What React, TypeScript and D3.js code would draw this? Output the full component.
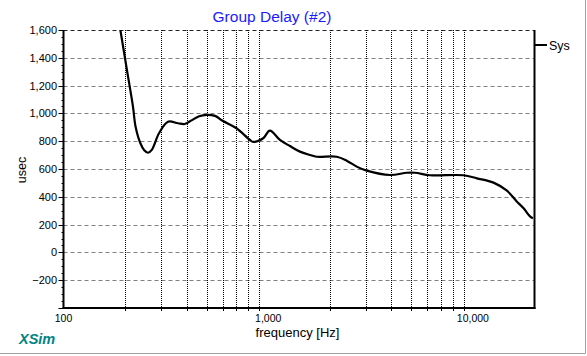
import React from "react";
import * as d3 from "d3";

const title = "Group Delay (#2)";
const seriesName = "Sys";
const freqs = [189.6, 204, 218.5, 225, 237.5, 248, 258.6, 270, 292.8, 324, 363, 391, 422, 460, 500, 550, 602, 700, 814, 845, 945, 1019, 1141, 1277, 1429, 1600, 1725, 2161, 2418, 2707, 3030, 3938, 4755, 5220, 6182, 8995, 10460, 12610, 14670, 16420, 17690, 19070, 19660];
const delays = [1600, 1315, 1048, 904, 785, 735, 717, 738, 857, 940, 929, 924, 950, 980, 990, 982, 945, 893, 809, 795, 821, 876, 809, 765, 725, 701, 688, 688, 660, 617, 588, 557, 573, 573, 555, 555, 533, 502, 444, 365, 317, 257, 245];
const yTicks = [-200, 0, 200, 400, 600, 800, 1000, 1200, 1400, 1600];
const xLabels = [100, 1000, 10000];

export default function App() {
  const W = 587, H = 356;
  const L = 63.5, R = 534.5, T = 30, B = 308;
  const x = d3.scaleLog().domain([100, 20000]).range([L, R]);
  const y = d3.scaleLinear().domain([-400, 1600]).range([B, T]);
  const fmt = d3.format(",");
  const minorX: number[] = [];
  for (const dec of [100, 1000, 10000]) for (let k = 2; k <= 9; k++) { const f = dec * k; if (f < 20000) minorX.push(f); }
  const minorY = d3.range(-400, 1601, 50);
  const pts = freqs.map((f, i) => [f, delays[i]] as [number, number]);
  const line = d3.line<[number, number]>().x(d => x(d[0])).y(d => y(d[1])).curve(d3.curveCatmullRom.alpha(0.5));
  const font = "Arial, 'Liberation Sans', sans-serif";
  return (
    <svg width={W} height={H} style={{ position: "absolute", left: 0, top: 0, background: "#fff" }} fontFamily={font}>
      <rect x={0} y={0} width={W} height={H} fill="#fff" />
      <line x1={0} x2={585.5} y1={353.5} y2={353.5} stroke="#a0a0a0" />
      <line x1={585.5} x2={585.5} y1={0} y2={353.5} stroke="#a0a0a0" />
      <text x={272} y={21.5} textAnchor="middle" fontSize={15.5} fill="#1a1aff">{title}</text>
      {/* horizontal grid */}
      {yTicks.map(v => (
        <line key={"hg" + v} x1={L} x2={R} y1={Math.round(y(v)) + 0.5} y2={Math.round(y(v)) + 0.5}
          stroke={v === 1600 ? "#222" : "#808080"} strokeDasharray="4,3" />
      ))}
      {/* vertical minor grid */}
      {minorX.map(f => (
        <line key={"vg" + f} x1={Math.round(x(f)) + 0.5} x2={Math.round(x(f)) + 0.5} y1={T} y2={B}
          stroke="#000" strokeDasharray="1,1" />
      ))}
      {/* y ticks */}
      {minorY.map(v => (
        <line key={"my" + v} x1={L - (v % 200 === 0 ? 5 : 2)} x2={L} y1={Math.round(y(v)) + 0.5} y2={Math.round(y(v)) + 0.5} stroke="#000" />
      ))}
      {yTicks.map(v => (
        <text key={"yl" + v} x={57} y={y(v) + 4} textAnchor="end" fontSize={11} fill="#000">{fmt(v)}</text>
      ))}
      {/* x ticks */}
      {minorX.map(f => (
        <line key={"xt" + f} x1={Math.round(x(f)) + 0.5} x2={Math.round(x(f)) + 0.5} y1={B} y2={B + 3} stroke="#000" />
      ))}
      {xLabels.map(f => (
        <text key={"xl" + f} x={x(f)} y={322} textAnchor="middle" fontSize={10.5} fill="#000">{fmt(f)}</text>
      ))}
      {/* axes */}
      <line x1={L} x2={L} y1={T} y2={B + 1} stroke="#000" strokeWidth={2} />
      <line x1={L - 1} x2={R + 1} y1={B} y2={B} stroke="#000" strokeWidth={2} />
      <line x1={R} x2={R} y1={T} y2={B + 1} stroke="#000" strokeWidth={2} />
      <clipPath id="pc"><rect x={L} y={T} width={R - L} height={B - T} /></clipPath>
      <path d={line(pts) || ""} fill="none" stroke="#000" strokeWidth={2.2} clipPath="url(#pc)" />
      {/* legend */}
      <line x1={R} x2={547} y1={45} y2={45} stroke="#000" strokeWidth={2} />
      <text x={549} y={49.5} fontSize={12.5} fill="#000">{seriesName}</text>
      <text x={22} y={170} textAnchor="middle" fontSize={12.5} fill="#000" transform="rotate(-90 22 170)" dy={4}>usec</text>
      <text x={297.5} y={337} textAnchor="middle" fontSize={13} fill="#000">frequency [Hz]</text>
      <text x={19} y={344} fontSize={14.5} fontWeight="bold" fontStyle="italic" fill="#008484">XSim</text>
    </svg>
  );
}
